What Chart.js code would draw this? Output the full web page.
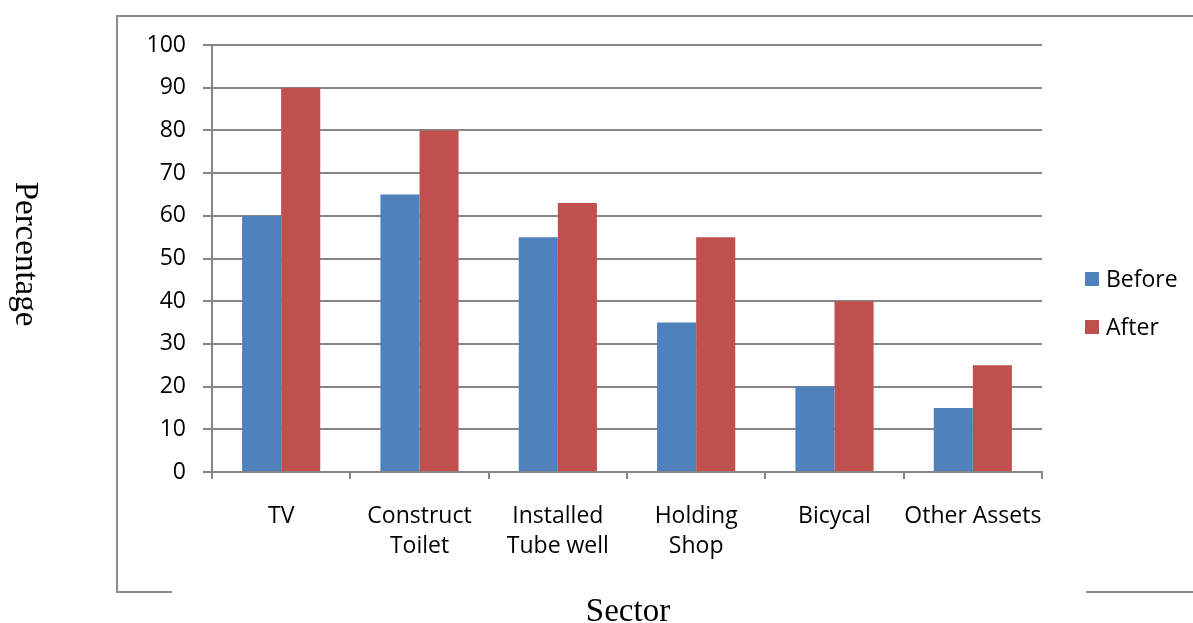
<!DOCTYPE html>
<html>
<head>
<meta charset="utf-8">
<script src="https://cdn.jsdelivr.net/npm/chart.js@4.4.1/dist/chart.umd.min.js"></script>
<style>
  html, body { margin: 0; padding: 0; background: #ffffff; }
  #wrap { width: 1193px; height: 623px; position: relative; }
</style>
</head>
<body>
<div id="wrap"><canvas id="chart" width="1193" height="623"></canvas></div>
<script>
// Before / after asset ownership by sector
const categories = [['TV'], ['Construct', 'Toilet'], ['Installed', 'Tube well'], ['Holding', 'Shop'], ['Bicycal'], ['Other Assets']];
const beforeVals = [60, 65, 55, 35, 20, 15];
const afterVals = [90, 80, 63, 55, 40, 25];
const yTicks = [0, 10, 20, 30, 40, 50, 60, 70, 80, 90, 100];
const seriesNames = ['Before', 'After'];
const seriesColors = ['#4F81BD', '#C0504D'];

const LABEL_FONT = '"Open Sans", sans-serif';
const SERIF = '"Liberation Serif", "DejaVu Serif", serif';
const GRID = '#868686';

// outer frame, axis titles and legend drawn by hand
const decor = {
  id: 'decor',
  afterDraw(chart) {
    const c = chart.ctx;
    c.save();
    c.strokeStyle = '#8c8c8c';
    c.lineWidth = 2;
    c.beginPath();
    c.moveTo(1193, 16); c.lineTo(117, 16); c.lineTo(117, 592); c.lineTo(172, 592);
    c.moveTo(1086, 592); c.lineTo(1193, 592);
    c.stroke();

    // axis titles
    c.fillStyle = '#000';
    c.font = '33px ' + SERIF;
    c.textAlign = 'center';
    c.textBaseline = 'alphabetic';
    c.fillText('Sector', 628, 621);
    c.save();
    c.translate(16, 254);
    c.rotate(Math.PI / 2);
    c.fillText('Percentage', 0, 0);
    c.restore();

    // legend
    c.font = '23px ' + LABEL_FONT;
    c.textAlign = 'left';
    const ys = [272, 320];
    seriesNames.forEach((n, i) => {
      c.fillStyle = seriesColors[i];
      c.fillRect(1085, ys[i], 14, 14);
      c.fillStyle = '#000';
      c.fillText(n, 1106, ys[i] + 15);
    });
    c.restore();
  }
};

new Chart(document.getElementById('chart'), {
  type: 'bar',
  data: {
    labels: categories,
    datasets: seriesNames.map((n, i) => ({
      label: n,
      data: i === 0 ? beforeVals : afterVals,
      backgroundColor: seriesColors[i],
      borderWidth: 0,
      barPercentage: 1,
      categoryPercentage: 0.565
    }))
  },
  options: {
    responsive: false,
    animation: false,
    devicePixelRatio: 1,
    layout: { padding: { left: 0, right: 151, top: 45, bottom: 0 } },
    plugins: { legend: { display: false }, tooltip: { enabled: false } },
    scales: {
      x: {
        afterFit: s => { s.height = 151; },
        grid: { offset: true, drawOnChartArea: false, color: GRID, tickLength: 7, lineWidth: 2 },
        border: { color: GRID, width: 2 },
        ticks: {
          color: '#000', padding: 23, maxRotation: 0, autoSkip: false,
          font: { family: LABEL_FONT, size: 23, lineHeight: 1.3 }
        }
      },
      y: {
        min: 0, max: 100,
        afterFit: s => { s.width = 212; },
        afterBuildTicks: s => { s.ticks = yTicks.map(v => ({ value: v })); },
        grid: { color: GRID, tickLength: 9, lineWidth: 2 },
        border: { color: GRID, width: 2 },
        ticks: {
          color: '#000', padding: 17,
          font: { family: LABEL_FONT, size: 23 }
        }
      }
    }
  },
  plugins: [decor]
});
</script>
</body>
</html>
